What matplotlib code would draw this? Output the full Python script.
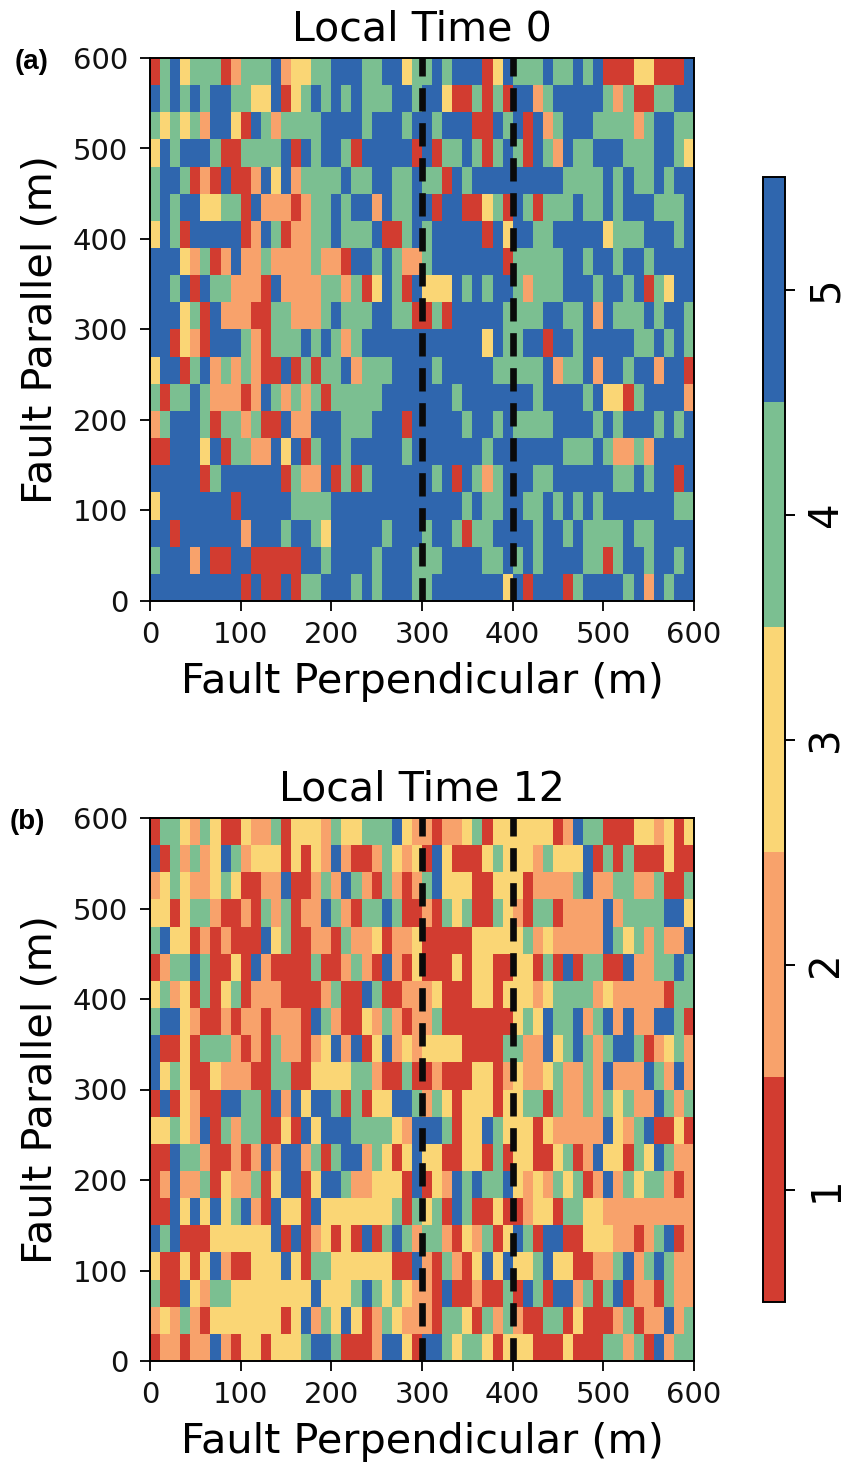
import numpy as np
import matplotlib
matplotlib.use("Agg")
import matplotlib.pyplot as plt
from matplotlib.colors import ListedColormap, BoundaryNorm

W, H = 847, 1462

# class per cell, rows listed top (y=600) to bottom (y=0)
local_time_0 = [
[1,4,5,3,4,4,4,1,2,4,4,4,5,2,3,3,4,4,5,5,5,4,4,5,5,3,4,4,5,4,5,5,5,1,3,5,4,4,4,5,4,4,5,4,5,1,1,1,3,3,1,1,1,5],
[5,4,5,4,5,4,5,5,4,4,3,3,5,1,3,4,5,4,5,4,5,4,4,4,5,5,4,5,5,3,1,1,4,1,4,1,5,5,2,4,5,5,5,5,5,4,2,4,1,1,4,4,5,5],
[4,3,4,3,4,2,5,5,3,1,5,4,2,4,4,4,4,5,5,5,5,4,5,5,5,4,5,5,4,5,5,5,1,1,5,4,5,1,5,2,4,5,5,5,4,4,4,4,2,4,5,5,4,4],
[3,5,4,5,5,5,4,1,1,4,4,4,4,5,1,5,4,5,5,4,1,5,5,5,5,5,1,5,1,4,4,5,4,1,4,5,4,1,5,4,2,5,4,4,5,5,5,4,4,4,5,5,4,3],
[4,5,5,4,1,2,1,5,1,1,2,5,3,5,2,4,4,4,4,5,4,4,5,5,4,4,5,4,4,1,5,4,5,5,5,5,5,5,5,5,5,4,4,4,4,5,4,5,4,4,5,4,5,5],
[4,5,4,5,5,3,3,4,4,1,5,2,2,2,1,2,4,4,5,4,5,5,2,5,4,4,5,5,1,5,5,1,1,3,4,1,5,4,1,4,4,4,5,4,4,5,4,5,5,5,4,4,4,5],
[3,5,4,1,5,5,5,5,5,1,2,5,4,1,2,2,4,4,5,4,4,4,5,1,1,4,5,4,5,5,5,5,5,1,5,3,5,5,4,4,5,5,5,5,5,3,4,4,4,5,5,5,4,5],
[5,5,5,3,2,4,1,2,5,2,2,4,2,2,2,2,4,2,2,1,5,5,4,5,4,2,2,4,5,5,5,5,5,5,5,1,4,4,4,4,4,5,5,4,5,5,4,5,5,4,5,5,5,5],
[5,5,4,5,1,5,4,4,2,2,2,1,5,2,2,2,2,4,4,2,4,1,3,5,4,1,5,3,3,3,5,4,5,4,5,5,4,2,4,4,4,5,5,5,4,5,5,4,5,1,4,3,5,5],
[5,5,5,3,4,1,5,2,2,2,1,1,4,4,2,2,2,4,5,4,4,4,5,5,4,4,1,1,4,1,5,5,5,5,5,4,4,4,4,5,5,4,4,5,2,5,4,4,4,5,4,5,5,4],
[5,5,1,3,2,1,5,5,5,4,2,1,4,4,4,5,4,5,4,2,4,5,5,5,5,5,5,5,5,5,5,5,5,3,5,4,4,5,5,1,5,5,4,5,5,5,5,5,4,4,5,4,5,4],
[3,5,5,1,4,5,2,4,2,4,2,1,1,5,1,4,1,4,4,5,2,4,4,4,5,5,5,5,4,5,5,5,5,5,4,4,4,4,4,5,2,4,4,5,2,5,5,4,5,5,2,5,5,1],
[4,1,4,4,5,4,2,2,2,1,2,5,4,2,4,2,4,1,4,4,4,4,4,5,5,5,5,5,5,5,4,5,5,5,5,5,5,5,4,5,5,5,5,4,5,3,3,1,4,5,5,5,5,2],
[2,4,5,5,5,4,1,4,4,2,4,1,1,5,2,2,5,5,5,4,4,4,5,5,5,1,5,5,5,5,5,4,5,5,4,5,4,4,4,4,5,5,5,5,4,5,4,5,5,5,4,5,4,5],
[1,1,5,5,5,3,5,1,4,4,2,2,5,3,5,1,4,5,5,4,5,5,5,5,5,4,5,5,5,5,5,5,5,4,5,5,5,5,5,5,5,4,4,4,5,4,2,2,4,2,5,5,5,5],
[5,5,5,5,5,1,4,5,5,5,5,5,5,1,4,2,2,5,1,4,1,4,5,5,5,5,5,5,4,5,1,5,4,2,4,5,5,5,4,4,5,5,5,5,5,5,4,4,5,4,5,5,1,5],
[3,5,5,5,5,5,5,5,1,5,5,5,5,5,4,4,4,4,5,5,5,5,5,5,5,5,5,5,5,5,5,4,5,4,4,5,5,4,4,5,4,5,4,5,4,5,5,5,5,5,5,5,4,4],
[5,5,1,5,5,5,5,5,5,2,5,5,5,4,5,5,4,3,5,5,5,5,5,4,5,5,5,4,5,5,4,1,4,4,5,5,5,5,4,5,5,4,5,4,4,4,4,5,4,4,5,5,5,5],
[4,5,5,5,2,5,1,1,5,5,1,1,1,1,1,5,5,4,5,5,5,5,4,5,5,5,4,4,4,5,5,5,5,4,4,5,4,5,4,5,5,5,5,4,4,1,4,5,5,4,5,5,4,5],
[5,5,5,5,5,5,5,5,5,1,5,1,1,5,1,4,4,5,5,5,4,5,4,5,5,5,4,4,5,5,5,5,5,5,5,3,5,1,5,5,5,1,4,5,5,5,5,4,5,2,5,4,5,5],
]
local_time_12 = [
[1,4,4,3,2,4,3,1,1,3,2,2,4,1,3,3,3,2,4,3,3,4,4,4,5,3,2,2,1,2,2,3,4,1,3,3,3,3,3,3,1,2,5,4,4,1,1,1,3,3,2,3,1,3],
[5,1,4,2,4,2,3,5,4,2,3,3,3,1,3,1,3,2,5,2,1,1,2,4,3,2,3,1,5,3,1,1,1,3,4,3,3,3,2,4,3,3,3,5,1,4,1,4,1,1,1,3,1,1],
[2,3,4,3,2,2,3,4,3,1,1,2,2,5,1,1,2,4,2,5,4,2,1,4,2,1,2,4,5,3,3,3,1,1,3,3,3,1,2,2,2,2,4,5,2,2,4,4,2,2,4,1,1,4],
[3,3,1,3,4,4,2,1,1,2,1,4,2,4,1,2,2,5,4,2,1,4,4,5,4,1,1,2,1,4,3,4,1,1,4,3,2,1,4,4,1,2,2,2,2,5,2,4,4,4,4,5,5,3],
[4,5,3,3,1,2,1,2,1,1,1,5,3,4,1,1,2,2,1,4,2,2,3,1,2,2,3,1,1,1,1,1,3,3,3,3,3,4,2,3,2,2,2,2,2,5,4,3,4,2,4,2,2,5],
[1,2,4,4,5,4,1,1,3,1,5,2,1,1,1,1,4,1,1,2,4,2,1,5,2,1,3,1,1,1,3,1,3,3,1,1,3,3,1,4,1,5,1,4,4,1,1,5,2,2,4,4,5,4],
[3,4,2,3,1,4,1,3,4,1,2,2,2,1,1,1,1,2,4,1,1,5,4,1,1,2,2,2,3,1,1,1,3,3,1,3,3,3,2,3,4,4,4,4,2,3,2,2,2,2,2,1,4,4],
[4,5,5,3,2,1,1,2,1,2,2,1,2,2,2,1,5,4,2,1,1,3,2,4,2,1,2,2,4,1,1,1,1,1,1,1,3,4,3,5,4,4,5,2,4,5,2,5,2,2,5,5,4,1],
[5,1,1,3,1,4,4,4,2,1,2,1,4,2,2,1,2,3,5,2,5,1,3,5,2,3,2,3,3,3,3,1,1,1,1,4,4,2,2,5,3,4,5,4,2,4,5,5,4,1,2,3,4,2],
[5,3,4,3,1,1,3,2,2,2,1,1,4,4,1,1,3,3,3,3,4,4,2,1,1,4,1,1,2,1,1,1,3,3,1,2,3,2,2,3,4,2,2,4,2,5,2,2,2,5,4,2,5,2],
[1,5,1,3,2,1,1,5,5,4,4,1,5,2,5,3,5,5,4,1,4,1,3,3,5,5,4,2,4,3,1,3,3,3,1,3,3,4,4,1,4,2,2,4,2,4,3,4,2,2,5,4,2,4],
[3,3,4,3,2,5,1,4,2,4,4,1,1,3,1,5,3,5,5,5,4,4,4,4,3,2,5,5,5,4,1,3,3,5,4,3,3,3,1,3,2,2,2,2,2,5,3,2,4,5,1,1,3,1],
[1,1,5,4,4,2,1,1,2,1,2,5,2,5,5,2,4,1,4,5,5,2,4,3,1,3,5,3,3,1,1,3,3,1,4,1,3,3,1,1,3,4,1,2,5,3,3,1,4,3,5,4,2,2],
[1,2,5,2,2,4,1,3,2,2,4,1,3,5,5,1,3,5,5,4,2,2,3,3,3,1,5,1,3,2,5,4,5,4,4,5,3,2,3,2,4,3,4,1,2,5,2,4,3,4,4,2,1,2],
[1,1,5,3,5,3,5,3,4,5,2,1,5,3,3,1,5,3,3,3,3,3,3,3,4,1,4,3,4,1,5,4,1,1,3,1,1,2,3,3,1,4,4,3,3,2,2,2,2,2,2,2,2,2],
[5,4,5,1,1,1,3,3,3,3,3,3,5,1,5,1,2,3,1,3,1,5,1,4,5,4,2,4,4,2,1,3,2,4,1,3,5,4,1,5,5,1,1,3,3,3,2,2,1,2,4,5,1,2],
[3,1,1,3,1,3,5,2,1,1,3,3,3,5,3,1,4,4,3,3,3,3,3,3,1,1,5,2,1,4,2,1,3,5,3,5,3,3,4,5,3,3,1,1,2,2,4,5,2,4,5,4,2,2],
[4,1,1,5,3,2,4,4,3,3,3,3,3,3,3,3,5,3,3,3,4,5,4,3,4,3,2,2,1,5,1,1,2,1,1,4,1,5,4,1,5,5,2,4,1,4,5,1,2,2,1,4,2,2],
[2,3,2,4,2,1,3,3,3,3,3,3,3,1,3,5,2,4,3,5,3,1,2,4,3,2,2,2,1,4,4,3,1,4,2,4,2,1,1,4,4,1,3,1,1,1,2,4,1,2,2,5,2,4],
[1,2,2,1,2,2,5,2,1,3,3,1,3,3,3,4,5,5,4,1,1,1,2,5,5,3,1,5,5,4,3,4,4,3,1,3,3,3,1,1,1,3,1,1,1,4,4,2,4,1,5,2,4,4],
]
titles = ["Local Time 0", "Local Time 12"]
panel_tags = ["(a)", "(b)"]
ticks = [0, 100, 200, 300, 400, 500, 600]
fault_lines = [300, 400]
classes = [1, 2, 3, 4, 5]
class_colors = ["#D23C30", "#F8A26B", "#FAD675", "#7BBF91", "#2F66AE"]

plt.rcParams["font.family"] = "DejaVu Sans"
fig = plt.figure(figsize=(W / 100, H / 100), dpi=100)
cmap = ListedColormap(class_colors)
norm = BoundaryNorm(np.arange(0.5, 6.5), cmap.N)


def px_axes(l, t, r, b):
    return fig.add_axes([l / W, 1 - b / H, (r - l) / W, (b - t) / H])


panels = [(local_time_0, 58, 601, 32, 62), (local_time_12, 818, 1361, 27, 822)]
for i, (grid, top, bottom, tag_x, tag_y) in enumerate(panels):
    ax = px_axes(150, top, 694, bottom)
    arr = np.array(grid)[::-1]
    xe = np.linspace(0, 600, arr.shape[1] + 1)
    ye = np.linspace(0, 600, arr.shape[0] + 1)
    mesh = ax.pcolormesh(xe, ye, arr, cmap=cmap, norm=norm, linewidth=0, antialiased=False)
    for v in fault_lines:
        ax.plot([v, v], [0, 600], color="#0a0a0a", lw=4.8, ls=(0, (3.5, 1.75)), dash_capstyle="butt")
    ax.set_xlim(0, 600)
    ax.set_ylim(0, 600)
    ax.set_xticks(ticks)
    ax.set_yticks(ticks)
    ax.tick_params(labelsize=21, length=7.2, width=1.4, colors="#111111")
    ax.tick_params(axis="x", pad=7.5)
    ax.tick_params(axis="y", pad=8.5)
    for s in ax.spines.values():
        s.set_linewidth(1.4)
    ax.set_xlabel("Fault Perpendicular (m)", fontsize=29.8)
    ax.set_ylabel("Fault Parallel (m)", fontsize=29.8)
    ax.xaxis.set_label_coords(0.5, -0.149)
    ax.yaxis.set_label_coords(-0.201, 0.5)
    ax.xaxis.label.set_va("center")
    ax.yaxis.label.set_va("center")
    ax.set_title(titles[i], fontsize=29.6, pad=12.5)
    fig.text(tag_x / W, 1 - tag_y / H, panel_tags[i], fontsize=20, fontweight="bold",
             family="Liberation Sans", ha="center", va="center")

cax = px_axes(763, 177, 785, 1302)
cb = fig.colorbar(mesh, cax=cax, ticks=classes, spacing="proportional")
cb.ax.minorticks_off()
cb.ax.tick_params(labelsize=29, length=7.2, width=1.4, pad=8)
for lab in cb.ax.get_yticklabels():
    lab.set_rotation(90)
    lab.set_va("center")
cb.outline.set_linewidth(1.4)

fig.savefig("out.png", dpi=100)
